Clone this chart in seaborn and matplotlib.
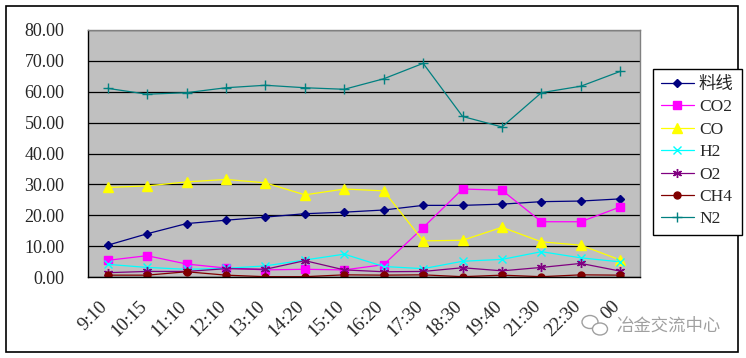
import numpy as np
import pandas as pd
import matplotlib
matplotlib.use("Agg")
import matplotlib.pyplot as plt
from matplotlib.patches import Rectangle, Ellipse
from matplotlib.transforms import ScaledTranslation
import seaborn as sns

# data
times = ["9:10", "10:15", "11:10", "12:10", "13:10", "14:20", "15:10",
         "16:20", "17:30", "18:30", "19:40", "21:30", "22:30", "00"]
liaoxian = [10.3, 14.0, 17.3, 18.4, 19.4, 20.5, 21.0, 21.7, 23.2, 23.2, 23.6, 24.4, 24.6, 25.3]
co2 = [5.4, 6.9, 4.2, 2.9, 2.3, 2.5, 2.3, 4.0, 16.0, 28.5, 28.1, 17.9, 17.9, 22.7]
co = [29.0, 29.5, 30.8, 31.6, 30.5, 26.6, 28.5, 27.9, 11.7, 11.9, 16.1, 11.4, 10.3, 5.5]
h2 = [4.1, 3.1, 2.5, 2.8, 3.6, 5.5, 7.4, 3.4, 2.7, 5.1, 5.7, 8.2, 6.2, 4.9]
o2 = [1.4, 1.8, 1.8, 2.7, 2.5, 5.3, 2.3, 1.7, 1.8, 3.0, 2.0, 3.1, 4.4, 1.9]
ch4 = [0.6, 0.6, 1.7, 0.6, 0.1, 0.1, 0.7, 0.6, 0.7, 0.1, 0.6, 0.1, 0.7, 0.6]
n2 = [61.1, 59.2, 59.7, 61.3, 62.1, 61.3, 60.8, 64.2, 69.2, 52.0, 48.6, 59.7, 61.8, 66.6]

names = ["料线", "CO2", "CO", "H2", "O2", "CH4", "N2"]
series = [liaoxian, co2, co, h2, o2, ch4, n2]
colors = {"料线": "#000080", "CO2": "#FF00FF", "CO": "#FFFF00", "H2": "#00FFFF",
          "O2": "#800080", "CH4": "#800000", "N2": "#008080"}
marks = {"料线": "D", "CO2": "s", "CO": "^", "H2": "x",
         "O2": (6, 2, 0), "CH4": "o", "N2": "+"}
msize = {"料线": 4.5, "CO2": 5.5, "CO": 6.5, "H2": 6, "O2": 6.5, "CH4": 5, "N2": 7}

rows = []
for name, vals in zip(names, series):
    for i, v in enumerate(vals):
        rows.append({"pos": i, "value": v, "gas": name})
df = pd.DataFrame(rows)

sns.set_style("white")
fonts = ["Liberation Serif", "Noto Sans CJK SC", "DejaVu Sans"]
plt.rcParams["font.family"] = fonts

fig = plt.figure(figsize=(7.46, 3.58), dpi=100)
ax = fig.add_axes([88 / 746, 1 - 277 / 358, 552 / 746, 247 / 358])
ax.set_facecolor("#C0C0C0")

for name in names:
    sub = df[df.gas == name]
    sns.lineplot(data=sub, x="pos", y="value", ax=ax, color=colors[name],
                 marker=marks[name], markersize=msize[name],
                 markeredgecolor=colors[name], markerfacecolor=colors[name],
                 markeredgewidth=1.0, linewidth=0.9, label=name,
                 sort=False, estimator=None, legend=False)

ax.set_xlim(-0.5, len(times) - 0.5)
ax.set_ylim(0, 80)
ax.set_yticks(np.arange(0, 81, 10))
ax.set_yticklabels([f"{v:.2f}" for v in np.arange(0, 81, 10)], fontsize=13)
ax.yaxis.grid(True, color="black", linewidth=0.9)
ax.set_axisbelow(True)
ax.tick_params(axis="y", length=0, pad=17)

ax.set_xticks(np.arange(len(times)))
ax.set_xticklabels(times, rotation=45, ha="right", va="top", rotation_mode="anchor", fontsize=13.5)
ax.set_xticks(np.arange(-0.5, len(times)), minor=True)
ax.tick_params(axis="x", which="major", length=0, pad=15)
ax.tick_params(axis="x", which="minor", direction="in", length=6, color="black", width=0.9)
shift = ScaledTranslation(-9 / 100, 0, fig.dpi_scale_trans)
for lab in ax.get_xticklabels():
    lab.set_transform(lab.get_transform() + shift)
ax.set_xlabel("")
ax.set_ylabel("")

for s in ["left", "bottom"]:
    ax.spines[s].set_color("black")
    ax.spines[s].set_linewidth(1.0)
for s in ["top", "right"]:
    ax.spines[s].set_color("#808080")
    ax.spines[s].set_linewidth(1.0)

handles, labels = ax.get_legend_handles_labels()
leg = fig.legend(handles, labels, loc="upper left", bbox_to_anchor=(653 / 746, 1 - 69 / 358),
                 frameon=True, fancybox=False, edgecolor="black", facecolor="white",
                 fontsize=12.5, handlelength=1.9, handletextpad=0.3, labelspacing=0.36,
                 borderpad=0.45, borderaxespad=0, framealpha=1)
leg.get_frame().set_linewidth(1.0)

# outer chart border
fig.patches.append(Rectangle((6 / 746, 6 / 358), 732 / 746, 346 / 358, transform=fig.transFigure,
                             fill=False, edgecolor="black", linewidth=1.2))

# watermark
fig.patches.append(Ellipse((590 / 746, 1 - 322 / 358), 16 / 746, 13 / 358, transform=fig.transFigure,
                           fill=False, edgecolor="#A0A0A0", linewidth=1.0))
fig.patches.append(Ellipse((600 / 746, 1 - 329 / 358), 15 / 746, 12 / 358, transform=fig.transFigure,
                           facecolor="white", edgecolor="#A0A0A0", linewidth=1.0))
fig.text(616 / 746, 1 - 326 / 358, "冶金交流中心", fontsize=12.5, color="#A0A0A0",
         va="center", ha="left", family=["Noto Sans CJK SC", "DejaVu Sans"])

fig.savefig("out.png", dpi=100)
